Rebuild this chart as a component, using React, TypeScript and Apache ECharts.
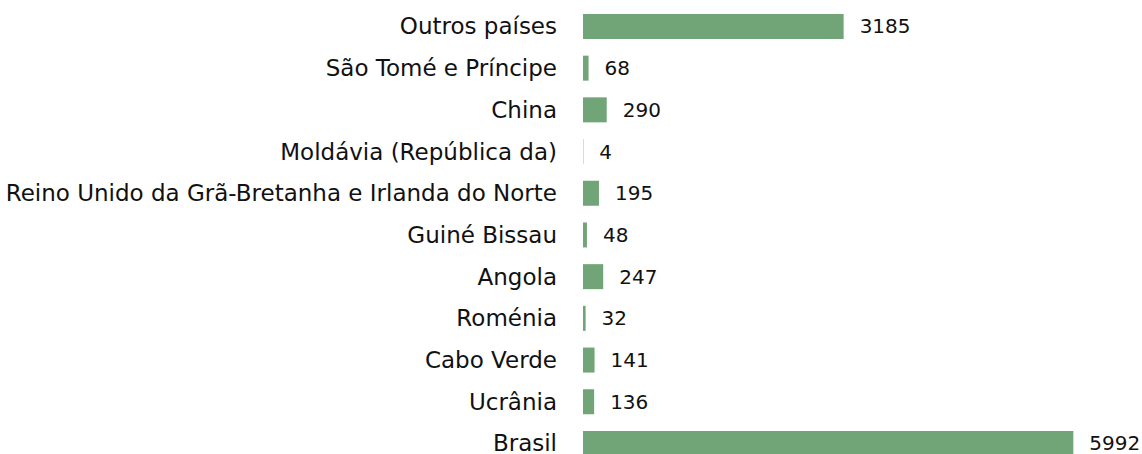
import React, { useEffect, useRef } from "react";
import * as echarts from "echarts";

const categories = [
  "Brasil",
  "Ucrânia",
  "Cabo Verde",
  "Roménia",
  "Angola",
  "Guiné Bissau",
  "Reino Unido da Grã-Bretanha e Irlanda do Norte",
  "Moldávia (República da)",
  "China",
  "São Tomé e Príncipe",
  "Outros países",
];
const values = [5992, 136, 141, 32, 247, 48, 195, 4, 290, 68, 3185];

const FONT = "'DejaVu Sans', sans-serif";

export default function App() {
  const ref = useRef<HTMLDivElement>(null);
  useEffect(() => {
    if (!ref.current) return;
    const chart = echarts.init(ref.current, undefined, { renderer: "svg" });
    chart.setOption({
      animation: false,
      grid: { left: 583, width: 491, top: 5.6, height: 458.7, containLabel: false },
      xAxis: { type: "value", min: 0, max: 6000, show: false },
      yAxis: {
        type: "category",
        data: categories,
        axisLine: { show: false },
        axisTick: { show: false },
        axisLabel: { fontSize: 23, lineHeight: 20, color: "#111", margin: 26, fontFamily: FONT },
      },
      series: [
        {
          type: "bar",
          data: values,
          barWidth: 25,
          itemStyle: { color: "#71A476" },
          label: {
            show: true,
            position: "right",
            distance: 16,
            fontSize: 20,
            lineHeight: 18,
            color: "#111",
            fontFamily: FONT,
          },
        },
      ],
    });
    return () => chart.dispose();
  }, []);
  return (
    <div style={{ position: "absolute", left: 0, top: 0, width: 1142, height: 454, overflow: "hidden" }}>
      <div ref={ref} style={{ width: 1142, height: 470 }} />
    </div>
  );
}
